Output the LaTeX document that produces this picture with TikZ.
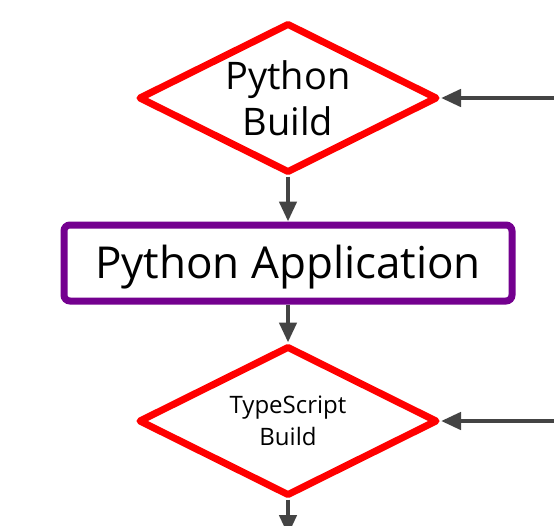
\documentclass[tikz,border=0pt]{standalone}
\usepackage{fontspec}
\setmainfont{Open Sans}
\usetikzlibrary{shapes.geometric,arrows.meta}
\definecolor{dred}{HTML}{FF0000}
\definecolor{dpurple}{HTML}{74008F}
\definecolor{dgray}{HTML}{444444}
\tikzset{
  decision/.style={diamond, draw=dred, line width=7pt, line join=round, fill=white,
    minimum width=299pt, minimum height=150pt, inner sep=0pt, align=center, aspect=2},
  process/.style={rectangle, draw=dpurple, line width=7pt, rounded corners=6pt, fill=white,
    minimum width=448pt, minimum height=76pt, inner sep=0pt, align=center},
  conn/.style={draw=dgray, line width=4.5pt, -{Triangle[length=20pt,width=17pt]}}
}
\begin{document}
\begin{tikzpicture}[x=1pt,y=-1pt]
\useasboundingbox[fill=white] (0,0) rectangle (554,525);
\node[decision, font=\fontsize{38}{46}\selectfont] (pb) at (288,98) {Python\\Build};
\node[process, font=\fontsize{44}{50}\selectfont, text height=36pt, text depth=6pt] (pa) at (288,263) {Python Application};
\node[decision, font=\fontsize{24}{32}\selectfont] (tb) at (288,421) {TypeScript\\Build};
\coordinate (r1) at (556,98);
\coordinate (r2) at (556,421);
\coordinate (bot) at (288,535);
\draw[conn] (pb.south) -- (pa.north);
\draw[conn] (pa.south) -- (tb.north);
\draw[conn] (r1) -- (pb.east);
\draw[conn] (r2) -- (tb.east);
\draw[conn] (tb.south) -- (bot);
\end{tikzpicture}
\end{document}
